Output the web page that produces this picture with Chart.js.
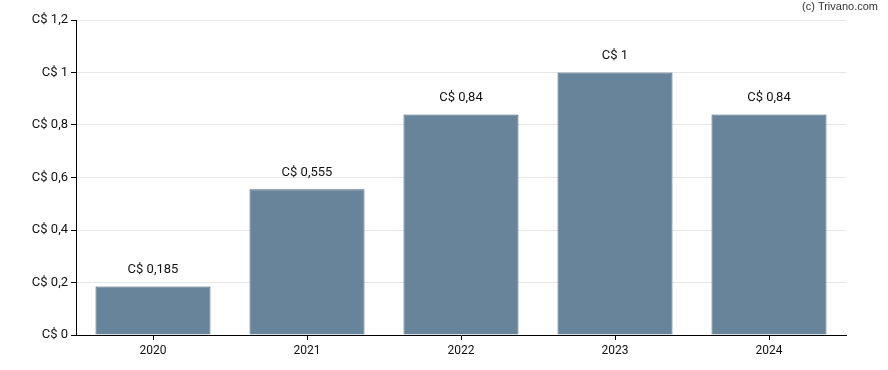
<!DOCTYPE html>
<html>
<head>
<meta charset="utf-8">
<script src="https://cdn.jsdelivr.net/npm/chart.js@4/dist/chart.umd.min.js"></script>
<style>
  html, body { margin: 0; padding: 0; background: #fff; }
  #wrap { width: 888px; height: 370px; }
</style>
</head>
<body>
<div id="wrap"><canvas id="divChart"></canvas></div>
<script>
// Dividend per year (C$)
const years = ['2020', '2021', '2022', '2023', '2024'];
const dividends = [0.185, 0.555, 0.84, 1, 0.84];
const yTicks = [0, 0.2, 0.4, 0.6, 0.8, 1, 1.2];

const fmt = v => 'C$ ' + String(Math.round(v * 1000) / 1000).replace('.', ',');

// value labels above the bars + copyright note
const labelPlugin = {
    id: 'labels',
    afterDatasetsDraw(chart) {
        const ctx = chart.ctx;
        const meta = chart.getDatasetMeta(0);
        ctx.save();
        ctx.font = '13px Roboto';
        ctx.fillStyle = '#111';
        ctx.textAlign = 'center';
        ctx.textBaseline = 'middle';
        meta.data.forEach((bar, i) => {
            ctx.fillText(fmt(dividends[i]), bar.x, bar.y - 17);
        });
        ctx.font = '11px "Liberation Sans", Arial';
        ctx.fillStyle = '#333';
        ctx.textAlign = 'right';
        ctx.fillText('(c) Trivano.com', 878, 7);
        ctx.restore();
    }
};

new Chart(document.getElementById('divChart'), {
    type: 'bar',
    data: {
        labels: years,
        datasets: [{
            data: dividends,
            backgroundColor: '#67849a',
            borderColor: '#445f74',
            borderWidth: 1,
            categoryPercentage: 1,
            barPercentage: 0.747
        }]
    },
    options: {
        responsive: true,
        maintainAspectRatio: false,
        animation: false,
        layout: { padding: { top: 20, right: 42, left: 0, bottom: 0 } },
        plugins: {
            legend: { display: false },
            tooltip: { enabled: false }
        },
        scales: {
            x: {
                grid: {
                    offset: false,
                    drawOnChartArea: false,
                    tickColor: '#000',
                    tickLength: 5
                },
                border: { color: '#000', width: 1 },
                ticks: { color: '#111', font: { family: 'Roboto', size: 12 }, padding: 4 },
                afterFit(axis) { axis.height = 35; }
            },
            y: {
                min: 0,
                max: 1.2,
                afterBuildTicks(axis) { axis.ticks = yTicks.map(v => ({ value: v })); },
                grid: { color: '#e6e6e6', tickColor: '#000', tickLength: 5 },
                border: { color: '#000', width: 1 },
                ticks: {
                    color: '#111',
                    font: { family: 'Roboto', size: 13 },
                    padding: 3,
                    callback: v => fmt(v)
                },
                afterFit(axis) { axis.width = 76; }
            }
        }
    },
    plugins: [labelPlugin]
});
</script>
</body>
</html>
